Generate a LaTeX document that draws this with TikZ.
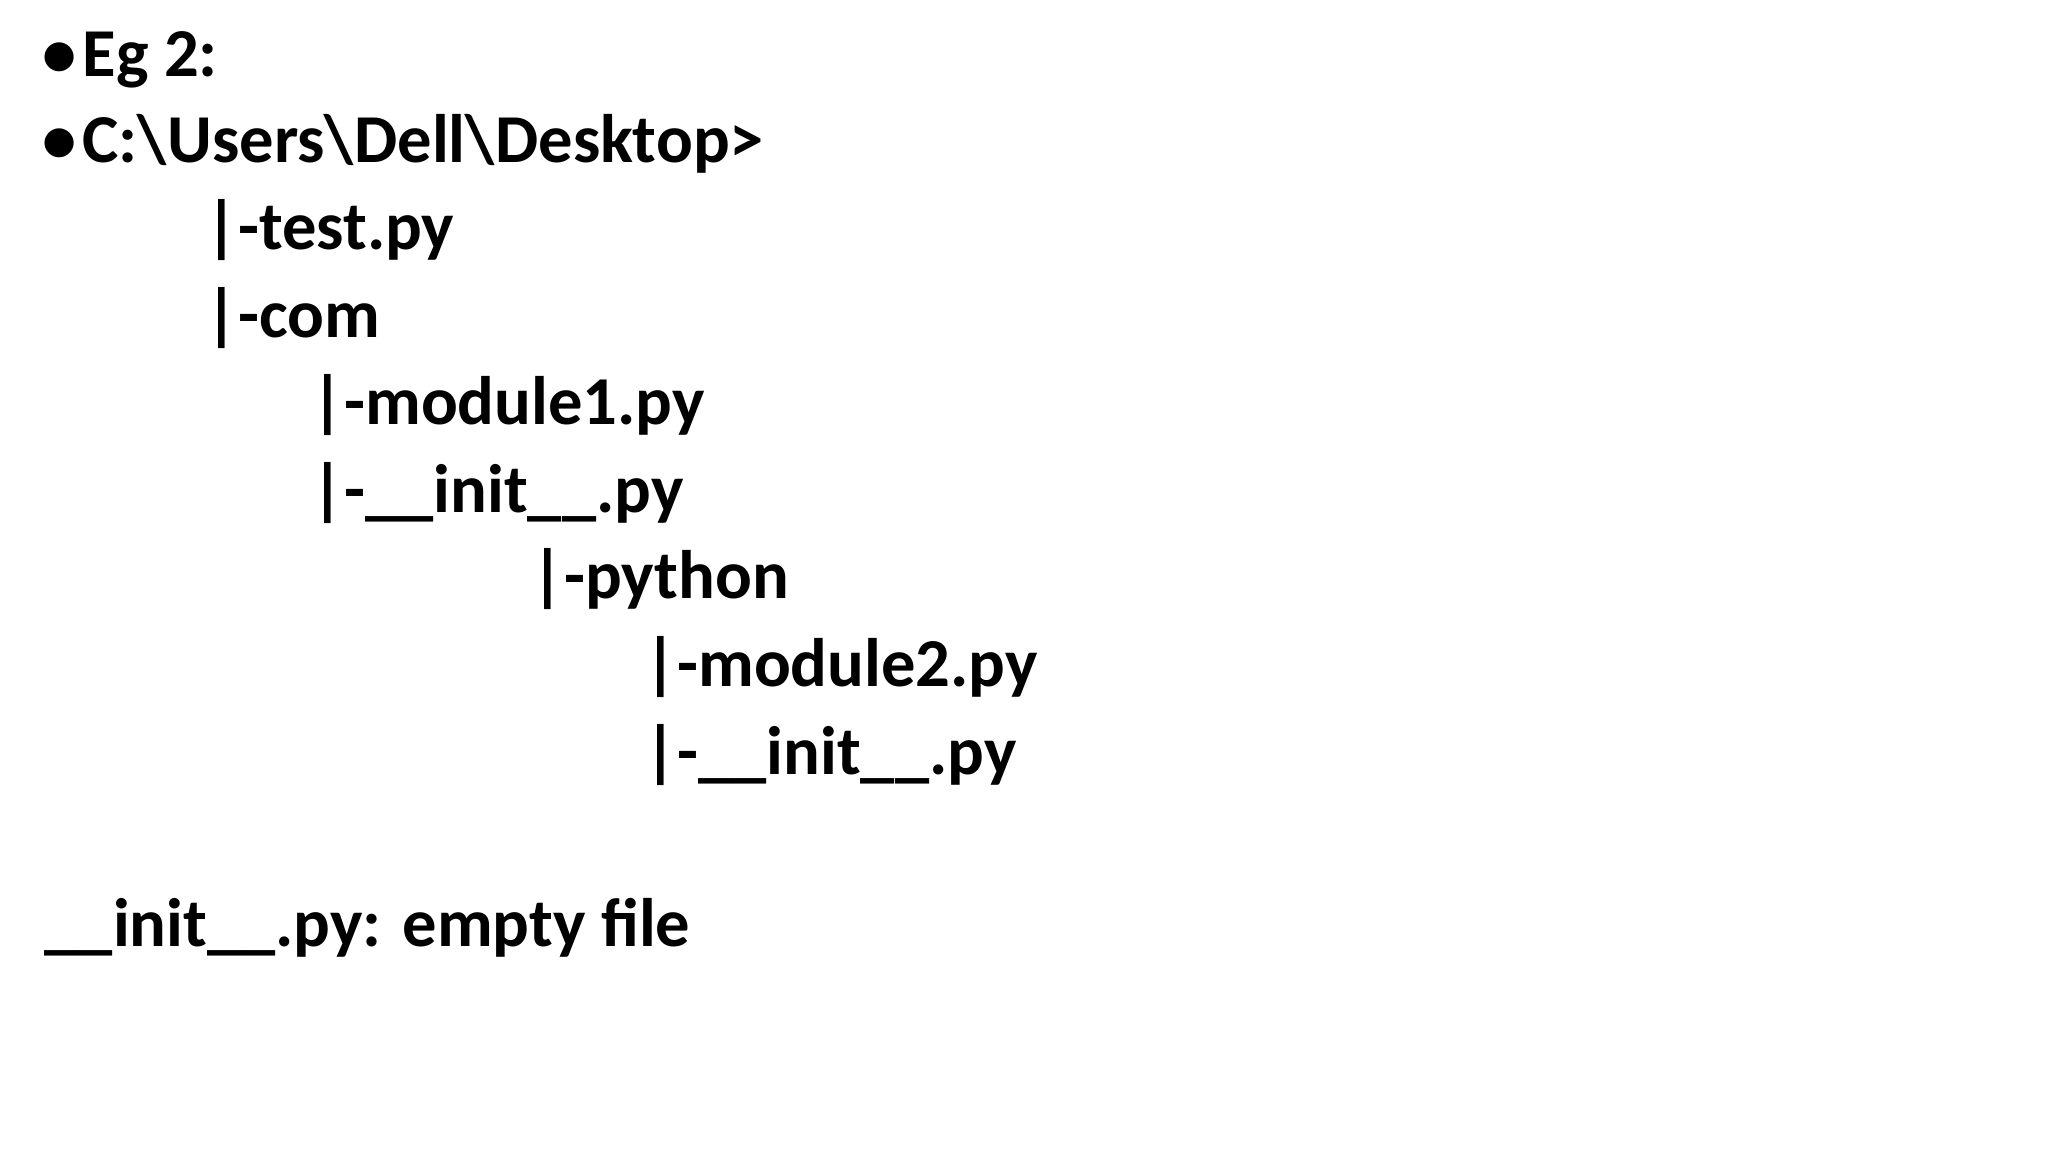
\documentclass[tikz,border=0pt]{standalone}
\usepackage{fontspec}
\setmainfont{Carlito}
\begin{document}
\begin{tikzpicture}[x=0.01cm,y=-0.01cm,
  t/.style={anchor=base west,inner sep=0pt,font=\fontsize{19.5}{23}\selectfont\bfseries}]
\fill[white] (0,0) rectangle (2048,1152);
\node[t] (b1) at (42,77) {\textbullet};
\node[t] (l1) at (82,77) {Eg 2:};
\node[t] (b2) at (42,163) {\textbullet};
\node[t] (l2) at (82,163) {C:\textbackslash Users\textbackslash Dell\textbackslash Desktop>};
\node[t] (l3) at (205,250) {|-test.py};
\node[t] (l4) at (205,338) {|-com};
\node[t] (l5) at (311,425) {|-module1.py};
\node[t] (l6) at (311,513) {|-\_\_init\_\_.py};
\node[t] (l7) at (531,599) {|-python};
\node[t] (l8) at (644,686) {|-module2.py};
\node[t] (l9) at (644,774) {|-\_\_init\_\_.py};
\node[t] (l10) at (44,946) {\_\_init\_\_.py: empty file};
\end{tikzpicture}
\end{document}
